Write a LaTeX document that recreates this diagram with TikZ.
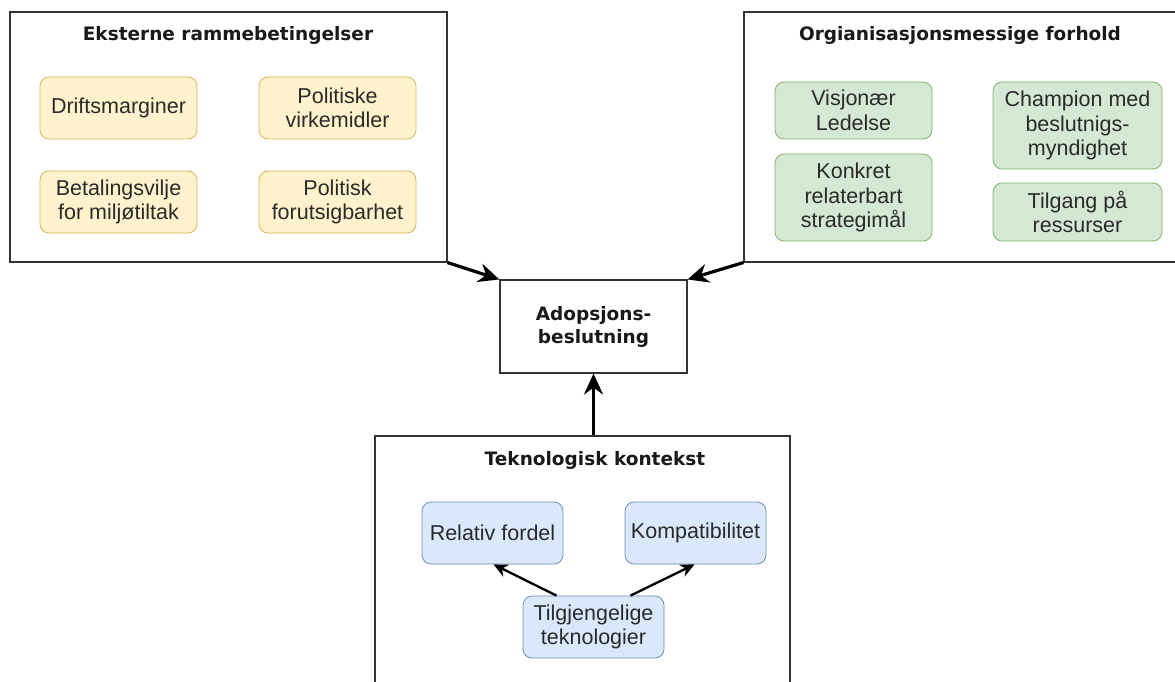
\documentclass[tikz,border=0pt]{standalone}
\usepackage{fontspec}
\setmainfont{Liberation Sans}
\newfontfamily\titlefont{DejaVu Sans}
\usetikzlibrary{arrows.meta,calc}
\definecolor{yfill}{HTML}{FFF2CC}
\definecolor{ydraw}{HTML}{D6B656}
\definecolor{gfill}{HTML}{D5E8D4}
\definecolor{gdraw}{HTML}{82B366}
\definecolor{bfill}{HTML}{DAE8FC}
\definecolor{bdraw}{HTML}{6C8EBF}
\definecolor{framecol}{HTML}{333333}
\definecolor{txtcol}{HTML}{2A2A2A}
\tikzset{
  frame/.style={draw=framecol, line width=1.1pt, fill=white, inner sep=0pt},
  item/.style={rounded corners=9pt, line width=0.8pt, align=center, inner sep=0pt,
    font=\fontsize{21.5}{24.5}\selectfont, text=txtcol},
  yitem/.style={item, fill=yfill, draw=ydraw},
  gitem/.style={item, fill=gfill, draw=gdraw},
  bitem/.style={item, fill=bfill, draw=bdraw},
  titletext/.style={font=\titlefont\bfseries\fontsize{18.5}{23}\selectfont, text=black!90, align=center, inner sep=0pt},
  bigarrow/.style={line width=3.2pt, -{Stealth[length=21pt,width=19pt,inset=7pt]}},
  smallarrow/.style={line width=2.3pt, -{Stealth[length=14pt,width=13pt,inset=4.5pt]}}
}
\begin{document}
\begin{tikzpicture}[x=1pt,y=-1pt]
\useasboundingbox (0,0) rectangle (1175,682);
\fill[white] (0,0) rectangle (1175,682);
\clip (0,0) rectangle (1175,682);

% frames
\node[frame, minimum width=437pt, minimum height=250pt] (ext) at (228.5,137) {};
\node[frame, minimum width=436pt, minimum height=250pt] (org) at (962,137) {};
\node[frame, minimum width=187pt, minimum height=93pt] (adop) at (593.5,326.5) {};
\node[frame, minimum width=415pt, minimum height=264pt] (tek) at (582.5,568) {};

% titles
\node[titletext] (exttitle) at (228,35) {Eksterne rammebetingelser};
\node[titletext] (orgtitle) at (960,35) {Orgianisasjonsmessige forhold};
\node[titletext] (adoptext) at (adop.center) {Adopsjons-\\beslutning};
\node[titletext] (tektitle) at (595,460) {Teknologisk kontekst};

% external items
\node[yitem, minimum width=157pt, minimum height=62pt] (drift) at (118.5,108) {Driftsmarginer};
\node[yitem, minimum width=157pt, minimum height=62pt] (polvirk) at (337.5,108) {Politiske\\virkemidler};
\node[yitem, minimum width=157pt, minimum height=62pt] (betal) at (118.5,202) {Betalingsvilje\\for miljøtiltak};
\node[yitem, minimum width=157pt, minimum height=62pt] (polfor) at (337.5,202) {Politisk\\forutsigbarhet};

% organisational items
\node[gitem, minimum width=157pt, minimum height=57pt] (visj) at (853.5,110.5) {Visjonær\\Ledelse};
\node[gitem, minimum width=157pt, minimum height=87pt] (konk) at (853.5,197.5) {Konkret\\relaterbart\\strategimål};
\node[gitem, minimum width=169pt, minimum height=87pt] (champ) at (1077.5,125.5) {Champion med\\beslutnigs-\\myndighet};
\node[gitem, minimum width=169pt, minimum height=58pt] (tilgang) at (1077.5,212) {Tilgang på\\ressurser};

% technology items
\node[bitem, minimum width=141pt, minimum height=62pt] (rel) at (492.5,533) {Relativ fordel};
\node[bitem, minimum width=141pt, minimum height=62pt] (komp) at (695.5,533) {Kompatibilitet};
\node[bitem, minimum width=141pt, minimum height=62pt] (tilgj) at (593.5,627) {Tilgjengelige\\teknologier};

% connectors
\draw[bigarrow] (ext.south east) -- (adop.north west);
\draw[bigarrow] (org.south west) -- (adop.north east);
\draw[bigarrow] (adop.south |- tek.north) -- (adop.south);
\draw[smallarrow] ($(tilgj.north)+(-37,0)$) -- ($(rel.south)+(1,0)$);
\draw[smallarrow] ($(tilgj.north)+(37,0)$) -- ($(komp.south)+(-1,0)$);
\end{tikzpicture}
\end{document}
